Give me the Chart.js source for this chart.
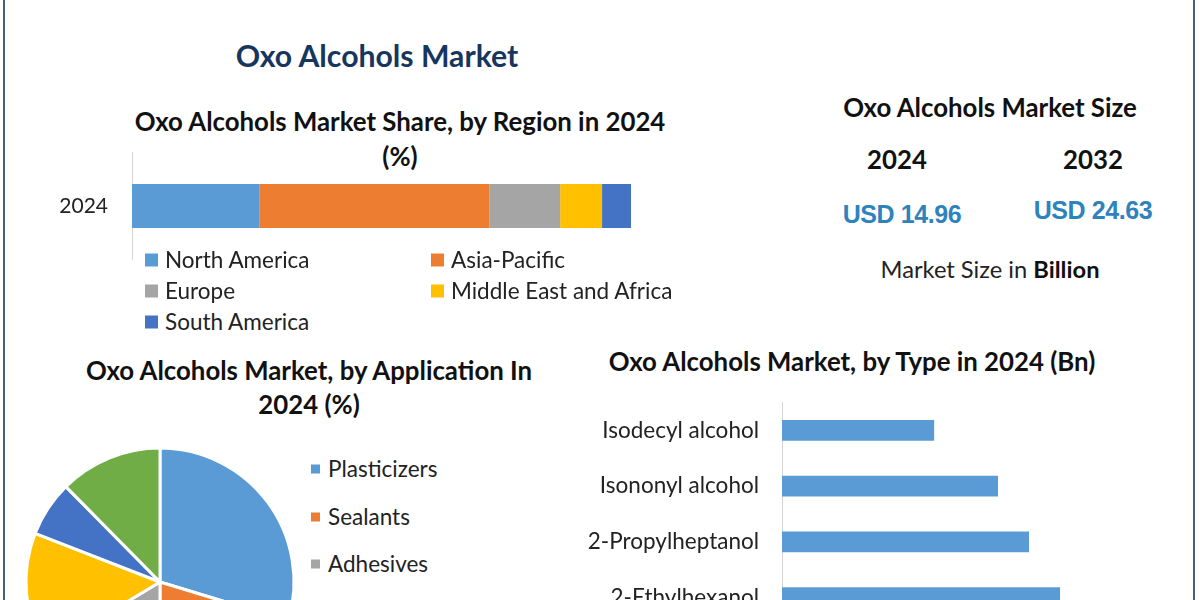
<!DOCTYPE html>
<html>
<head>
<meta charset="utf-8">
<title>Oxo Alcohols Market</title>
<script src="https://cdn.jsdelivr.net/npm/chart.js@4"></script>
<style>
    html, body { margin: 0; padding: 0; width: 1200px; height: 600px; overflow: hidden; background: #fff; }
    body { position: relative; font-family: Lato, sans-serif; color: #1a1a1a; }
    canvas { position: absolute; }
    .frame { position: absolute; top: 0; bottom: 0; width: 2px; background: #4a5f78; }
    .txt { position: absolute; white-space: nowrap; transform: translate(-50%, -50%); line-height: 1; }
    .b { font-weight: 700; color: #111; }
    .chart-title { font-size: 25.8px; }
    .usd { font-family: "Liberation Sans", sans-serif; font-weight: 700; font-size: 25px; letter-spacing: -0.4px; color: #2e83bd; }
    .leg { position: absolute; white-space: nowrap; line-height: 1; transform: translateY(-50%); font-size: 22.5px; color: #222; }
    .sw { position: absolute; transform: translateY(-50%); }
</style>
</head>
<body>
<div class="frame" style="left:3px"></div>
<div class="frame" style="left:1193px"></div>

<div class="txt b" style="left:377px;top:55px;font-size:30.2px;color:#17365d">Oxo Alcohols Market</div>
<div class="txt b chart-title" style="left:400px;top:122px">Oxo Alcohols Market Share, by Region in 2024</div>
<div class="txt b chart-title" style="left:400px;top:157px">(%)</div>
<div class="txt b chart-title" style="left:309px;top:371px">Oxo Alcohols Market, by Application In</div>
<div class="txt b chart-title" style="left:309px;top:405px">2024 (%)</div>
<div class="txt b chart-title" style="left:852px;top:362px">Oxo Alcohols Market, by Type in 2024 (Bn)</div>

<div class="txt b chart-title" style="left:990px;top:108px">Oxo Alcohols Market Size</div>
<div class="txt b chart-title" style="left:897px;top:160px">2024</div>
<div class="txt b chart-title" style="left:1093px;top:160px">2032</div>
<div class="txt usd" style="left:902px;top:214px">USD 14.96</div>
<div class="txt usd" style="left:1093px;top:210px">USD 24.63</div>
<div class="txt" style="left:990px;top:270px;font-size:23.7px;color:#222">Market Size in <b class="b">Billion</b></div>

<!-- the y axis keeps about 36px free above and below its plot, so these canvases are taller than the plots -->
<canvas id="regionChart" width="640" height="180" style="left:0;top:116px"></canvas>
<canvas id="applicationChart" width="280" height="280" style="left:20px;top:442px"></canvas>
<canvas id="typeChart" width="580" height="296" style="left:560px;top:366px"></canvas>

<script>
const regionYears = ['2024'];
const regionNames = ['North America', 'Asia-Pacific', 'Europe', 'Middle East and Africa', 'South America'];
const regionShares = [25.5, 46.1, 14.2, 8.4, 5.8];
const regionColors = ['#5b9bd5', '#ed7d31', '#a5a5a5', '#ffc000', '#4472c4'];

// only the first three legend entries are visible, the rest is cut off
const applicationNames = ['Plasticizers', 'Sealants', 'Adhesives'];
const applicationShares = [29.7, 20.3, 16.4, 14.5, 6.7, 12.4];
const applicationColors = ['#5b9bd5', '#ed7d31', '#a5a5a5', '#ffc000', '#4472c4', '#70ad47'];

const typeNames = ['Isodecyl alcohol', 'Isononyl alcohol', '2-Propylheptanol', '2-Ethylhexanol'];
const typeValues = [2.55, 3.62, 4.14, 4.66];

Chart.defaults.animation = false;
Chart.defaults.font.family = 'Lato, sans-serif';
Chart.defaults.plugins.legend.display = false;
Chart.defaults.plugins.tooltip.enabled = false;

const axisLine = { color: '#d4d4d4', width: 1 };

function addLegendItem(name, color, swatchX, textX, y, swatch) {
    const box = document.createElement('div');
    box.className = 'sw';
    box.style.cssText = `left:${swatchX}px;top:${y}px;width:${swatch}px;height:${swatch}px;background:${color}`;
    document.body.appendChild(box);
    const label = document.createElement('div');
    label.className = 'leg';
    label.style.cssText = `left:${textX}px;top:${y}px`;
    label.textContent = name;
    document.body.appendChild(label);
}

function initRegionChart() {
    new Chart(document.getElementById('regionChart'), {
        type: 'bar',
        data: {
            labels: regionYears,
            datasets: regionNames.map((name, i) => ({
                label: name,
                data: [regionShares[i]],
                backgroundColor: regionColors[i],
                barPercentage: 0.41,
                categoryPercentage: 1
            }))
        },
        options: {
            indexAxis: 'y',
            responsive: false,
            layout: { padding: { right: 9 } },
            scales: {
                x: { stacked: true, display: false, min: 0, max: 100 },
                y: {
                    stacked: true,
                    afterFit: scale => { scale.width = 132; },
                    grid: { display: false, drawTicks: false },
                    border: axisLine,
                    ticks: { color: '#222', font: { size: 21 }, padding: 24 }
                }
            }
        }
    });
    const rows = [[145, 165, 260], [431, 451, 260], [145, 165, 291], [431, 451, 291], [145, 165, 322]];
    regionNames.forEach((name, i) => addLegendItem(name, regionColors[i], rows[i][0], rows[i][1], rows[i][2], 13));
}

function initApplicationChart() {
    new Chart(document.getElementById('applicationChart'), {
        type: 'pie',
        data: {
            labels: applicationNames,
            datasets: [{
                data: applicationShares,
                backgroundColor: applicationColors,
                borderColor: '#fff',
                borderWidth: 3,
                radius: 134
            }]
        },
        options: { responsive: false }
    });
    const rowY = [469, 517, 564];
    applicationNames.forEach((name, i) => addLegendItem(name, applicationColors[i], 311, 328, rowY[i], 9));
}

function initTypeChart() {
    new Chart(document.getElementById('typeChart'), {
        type: 'bar',
        data: {
            labels: typeNames,
            datasets: [{
                data: typeValues,
                backgroundColor: '#5b9bd5',
                barPercentage: 0.37,
                categoryPercentage: 1
            }]
        },
        options: {
            indexAxis: 'y',
            responsive: false,
            scales: {
                x: { display: false, min: 0, max: 6 },
                y: {
                    afterFit: scale => { scale.width = 222; },
                    grid: { display: false, drawTicks: false },
                    border: axisLine,
                    ticks: { color: '#222', font: { size: 22.5 }, padding: 23 }
                }
            }
        }
    });
}

initRegionChart();
initApplicationChart();
initTypeChart();
</script>
</body>
</html>
